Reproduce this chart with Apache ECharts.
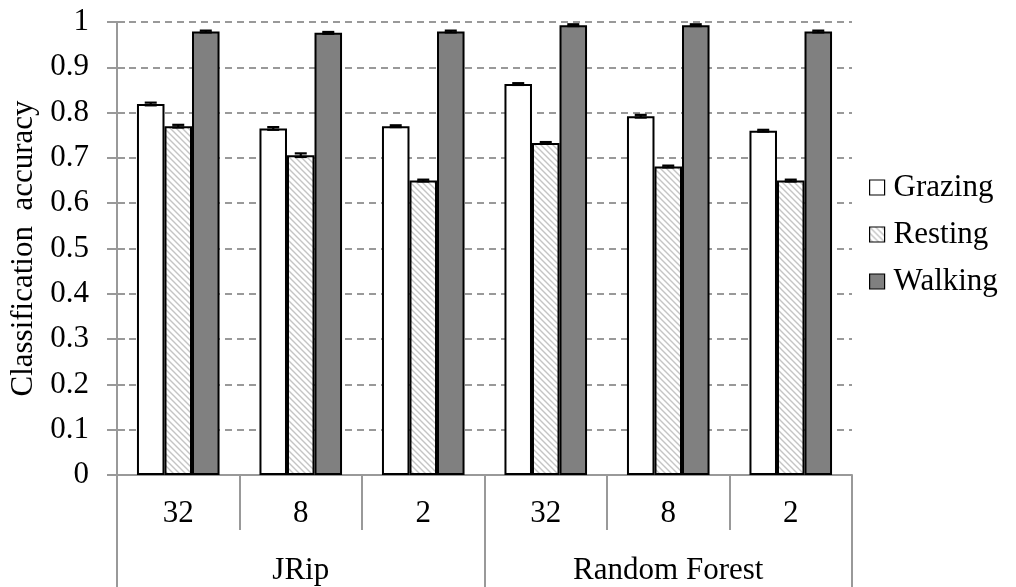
<!DOCTYPE html>
<html>
<head>
<meta charset="utf-8">
<script src="https://cdn.jsdelivr.net/npm/echarts@6/dist/echarts.min.js"></script>
<style>
html,body{margin:0;padding:0;background:#fff;}
#chart{width:1016px;height:587px;}
</style>
</head>
<body>
<div id="chart"></div>
<script>
// ---- data ----
const subCategories = ['32', '8', '2', '32', '8', '2'];
const groupCategories = ['JRip', 'Random Forest'];
const seriesNames = ['Grazing', 'Resting', 'Walking'];
const grazing = [0.819, 0.765, 0.770, 0.863, 0.792, 0.760];
const resting = [0.770, 0.706, 0.650, 0.733, 0.681, 0.650];
const walking = [0.979, 0.976, 0.979, 0.993, 0.993, 0.979];
const grazingErr = [0.003, 0.003, 0.002, 0.002, 0.003, 0.002];
const restingErr = [0.003, 0.004, 0.002, 0.002, 0.002, 0.002];
const walkingErr = [0.002, 0.002, 0.002, 0.002, 0.002, 0.002];
const yTickLabels = ['0', '0.1', '0.2', '0.3', '0.4', '0.5', '0.6', '0.7', '0.8', '0.9', '1'];

// ---- styling ----
const FONT = 'Liberation Serif';
const FS = 31;
const CAT_GAP = 0.326;

function hatchPattern() {
  const s = 6;
  const c = document.createElement('canvas');
  c.width = s; c.height = s;
  const g = c.getContext('2d');
  g.fillStyle = '#ffffff';
  g.fillRect(0, 0, s, s);
  g.strokeStyle = '#c4c4c4';
  g.lineWidth = 1.4;
  g.beginPath();
  g.moveTo(-1, -1); g.lineTo(s + 1, s + 1);
  g.moveTo(-1, s - 1); g.lineTo(1, s + 1);
  g.moveTo(s - 1, -1); g.lineTo(s + 1, 1);
  g.stroke();
  return c;
}

const fills = ['#ffffff', { image: hatchPattern(), repeat: 'repeat' }, '#808080'];
const values = [grazing, resting, walking];
const errs = [grazingErr, restingErr, walkingErr];

const barSeries = seriesNames.map((name, k) => ({
  name: name,
  type: 'bar',
  data: values[k],
  barGap: '0%',
  barCategoryGap: (CAT_GAP * 100) + '%',
  itemStyle: { color: fills[k], borderColor: '#000', borderWidth: 2 },
  z: 3
}));

const errSeries = seriesNames.map((name, k) => ({
  name: name + ' error',
  type: 'custom',
  z: 5,
  data: values[k].map((v, i) => [i, v, errs[k][i]]),
  renderItem: function (params, api) {
    const idx = api.value(0), v = api.value(1), e = api.value(2);
    const bandW = api.size([1, 0])[0];
    const barW = bandW * (1 - CAT_GAP) / 3;
    const cx = api.coord([idx, 0])[0] + (k - 1) * barW;
    const yTop = api.coord([idx, v + e])[1];
    const yBot = api.coord([idx, v - e])[1];
    const half = 6;
    const st = { stroke: '#000', lineWidth: 2.2 };
    return {
      type: 'group',
      children: [
        { type: 'line', shape: { x1: cx, y1: yTop, x2: cx, y2: yBot }, style: st },
        { type: 'line', shape: { x1: cx - half, y1: yTop, x2: cx + half, y2: yTop }, style: st },
        { type: 'line', shape: { x1: cx - half, y1: yBot, x2: cx + half, y2: yBot }, style: st }
      ]
    };
  }
}));

const chart = echarts.init(document.getElementById('chart'), null, { renderer: 'canvas' });
chart.setOption({
  animation: false,
  backgroundColor: '#ffffff',
  textStyle: { fontFamily: FONT },
  grid: { left: 117, right: 164, top: 22, bottom: 112, containLabel: false, outerBoundsMode: 'none' },
  legend: {
    data: seriesNames,
    orient: 'vertical',
    left: 864,
    top: 167,
    itemWidth: 15,
    itemHeight: 15,
    itemGap: 16,
    icon: 'rect',
    itemStyle: { borderWidth: 1.2, borderColor: '#000' },
    textStyle: { fontFamily: FONT, fontSize: FS, color: '#000', padding: [0, 0, 0, 4], lineHeight: 30 },
    selectedMode: false
  },
  xAxis: [
    {
      type: 'category',
      data: subCategories,
      position: 'bottom',
      offset: 0,
      axisLine: { show: true, lineStyle: { color: '#999', width: 2 } },
      axisTick: { show: true, interval: 0, length: 55, lineStyle: { color: '#999', width: 2 } },
      axisLabel: { interval: 0, margin: 23, fontFamily: FONT, fontSize: FS, color: '#000' },
      splitLine: { show: false }
    },
    {
      type: 'category',
      data: groupCategories,
      position: 'bottom',
      offset: 0,
      axisLine: { show: false },
      axisTick: { show: true, interval: 0, length: 112, lineStyle: { color: '#999', width: 2 } },
      axisLabel: { interval: 0, margin: 80, fontFamily: FONT, fontSize: FS, color: '#000' },
      splitLine: { show: false }
    }
  ],
  yAxis: [
    {
      type: 'value',
      min: 0,
      max: 1,
      interval: 0.1,
      name: 'Classification  accuracy',
      nameLocation: 'middle',
      nameGap: 74,
      nameTextStyle: { fontFamily: FONT, fontSize: FS, color: '#000' },
      axisLine: { show: true, lineStyle: { color: '#999', width: 2 } },
      axisTick: { show: true, length: 10, lineStyle: { color: '#999', width: 2 } },
      axisLabel: {
        margin: 28, fontFamily: FONT, fontSize: FS, color: '#000',
        formatter: function (val) { return yTickLabels[Math.round(val * 10)]; }
      },
      splitLine: { show: true, lineStyle: { color: '#999', width: 2, type: [7, 5] } }
    },
    {
      type: 'value',
      min: 0,
      max: 1,
      interval: 0.1,
      position: 'left',
      offset: 0,
      axisLine: { show: false },
      axisTick: { show: true, inside: true, length: 8, lineStyle: { color: '#999', width: 2 } },
      axisLabel: { show: false },
      splitLine: { show: false }
    }
  ],
  series: barSeries.concat(errSeries)
});
</script>
</body>
</html>
